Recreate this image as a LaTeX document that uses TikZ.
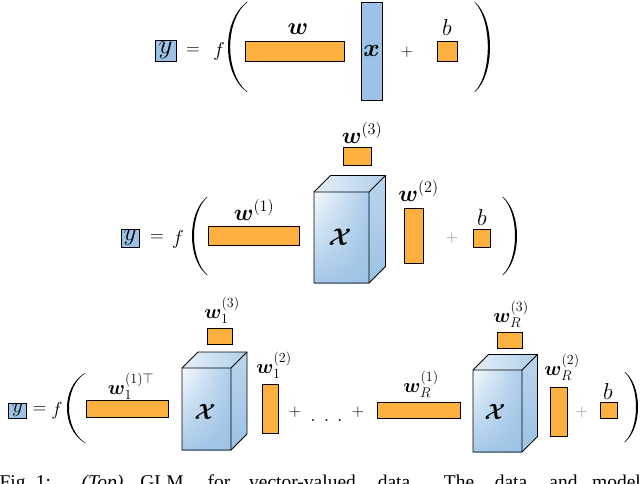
\documentclass[tikz,border=0pt]{standalone}
\usepackage{fix-cm}
\usepackage{amsmath,bm}
\usepackage{fontspec}
\newfontfamily\capfont{Liberation Serif}
\usetikzlibrary{shadings}
\definecolor{corange}{HTML}{FBB040}
\definecolor{cblue}{HTML}{9CC2E5}
\tikzset{
  obar/.style={fill=corange, draw=black, line width=0.8pt},
  bbar/.style={fill=cblue, draw=black, line width=0.8pt},
  ybox/.style={fill=cblue, draw=black, line width=0.8pt, inner sep=0pt},
  lbl/.style={inner sep=0pt},
  gplus/.style={text=black!45},
  edge/.style={draw=black, line width=0.8pt, line join=round},
  capw/.style={inner sep=0pt, anchor=base, font=\capfont\fontsize{19.5}{19.5}\selectfont},
}
\newcommand\fs[1]{\fontsize{#1}{#1}\selectfont}
% #1 end x, #2 extreme x, #3 top y, #4 bottom y, #5 mid thickness, #6 end thickness (signed)
\newcommand\myparen[6]{%
  \fill (#1,#3) .. controls ({#1+1.333*((#2)-(#1))},{#3+0.2*((#4)-(#3))}) and ({#1+1.333*((#2)-(#1))},{#4-0.2*((#4)-(#3))}) .. (#1,#4)
   -- ({#1+(#6)},#4) .. controls ({#1+(#6)+1.333*((#2)+(#5)-(#1)-(#6))},{#4-0.2*((#4)-(#3))}) and ({#1+(#6)+1.333*((#2)+(#5)-(#1)-(#6))},{#3+0.2*((#4)-(#3))}) .. ({#1+(#6)},#3) -- cycle;}
% cube: front x1 y1 x2 y2, depth d
\newcommand\mycube[5]{%
  \shade[left color=white!75!cblue, right color=cblue!80!white] (#1,#2) -- ({#1+#5},{#2-#5}) -- ({#3+#5},{#2-#5}) -- (#3,#2) -- cycle;
  \shade[top color=cblue!70!white, bottom color=cblue] (#3,#2) -- ({#3+#5},{#2-#5}) -- ({#3+#5},{#4-#5}) -- (#3,#4) -- cycle;
  \shade[upper left=white!90!cblue, upper right=cblue!85!white, lower left=cblue!90!white, lower right=cblue] (#1,#2) rectangle (#3,#4);
  \draw[edge] (#1,#2) -- ({#1+#5},{#2-#5}) -- ({#3+#5},{#2-#5}) -- ({#3+#5},{#4-#5}) -- (#3,#4) -- (#1,#4) -- cycle;
  \draw[edge] (#1,#2) -- (#3,#2) -- ({#3+#5},{#2-#5}) (#3,#2) -- (#3,#4);
}
\begin{document}
\begin{tikzpicture}[x=1pt,y=-1pt]
\clip (0,0) rectangle (640,484);
\fill[white] (0,0) rectangle (640,484);

% ---------- Row 1 ----------
\node[ybox, minimum width=21pt, minimum height=21pt, font=\fs{27}] (y1) at (165.5,50.5) {$y$};
\node[lbl, font=\fs{19}] (eq1) at (193,51) {$=$};
\node[lbl, font=\fs{20}] (f1) at (219,52) {$f$};
\myparen{247}{228}{2}{92}{2.2}{0.6}
\draw[obar] (245,41) rectangle (344,61);
\node[lbl, anchor=base, font=\fs{24}] (w1) at (298,35) {$\bm{w}$};
\draw[bbar] (361,2) rectangle (382,100);
\node[lbl, font=\fs{25}] (x1) at (371.5,51) {$\bm{x}$};
\node[lbl, font=\fs{17}] (p1) at (407,52) {$+$};
\draw[obar] (437,41) rectangle (457,61);
\node[lbl, anchor=base, font=\fs{23}] (b1) at (447,36) {$b$};
\myparen{475}{490}{2}{92}{-2.2}{-0.6}

% ---------- Row 2 ----------
\node[ybox, minimum width=18pt, minimum height=18pt, font=\fs{25}] (y2) at (130,238) {$y$};
\node[lbl, font=\fs{19}] (eq2) at (157,238) {$=$};
\node[lbl, font=\fs{20}] (f2) at (178,239) {$f$};
\myparen{207}{192}{197}{275}{2}{0.6}
\draw[obar] (208,226) rectangle (299,245);
\node[lbl, anchor=base, font=\fs{23}] (w21) at (254,220) {$\bm{w}^{(1)}$};
\mycube{314}{192}{369}{283}{16.5}
\node[lbl, font=\fs{24}] (X2) at (340,237.5) {$\bm{\mathcal{X}}$};
\draw[obar] (343,147) rectangle (371,165);
\node[lbl, anchor=base, font=\fs{23}] (w23) at (362,143) {$\bm{w}^{(3)}$};
\draw[obar] (404,208) rectangle (423,263);
\node[lbl, anchor=base, font=\fs{23}] (w22) at (418.5,201) {$\bm{w}^{(2)}$};
\node[lbl, gplus, font=\fs{17}] (p2) at (452,238) {$+$};
\draw[obar] (473,229) rectangle (490,247);
\node[lbl, anchor=base, font=\fs{23}] (b2) at (482,225) {$b$};
\myparen{503}{517}{197}{275}{-2}{-0.6}

% ---------- Row 3 ----------
\node[ybox, minimum width=18pt, minimum height=15pt, font=\fs{21}] (y3) at (17.5,410.5) {$y$};
\node[lbl, font=\fs{19}] (eq3) at (39.5,410) {$=$};
\node[lbl, font=\fs{19}] (f3) at (57,411) {$f$};
\myparen{85}{67}{373}{443}{2}{0.6}
\draw[obar] (86,400) rectangle (168,417);
\node[lbl, anchor=base, font=\fs{20}] (w31) at (131,394) {$\bm{w}_1^{(1)\top}$};
\mycube{182}{368}{231}{450}{16}
\node[lbl, font=\fs{22}] (X3a) at (205,412) {$\bm{\mathcal{X}}$};
\draw[obar] (207,328) rectangle (232,344);
\node[lbl, anchor=base, font=\fs{20}] (w33) at (222,318) {$\bm{w}_1^{(3)}$};
\draw[obar] (262,384) rectangle (278,433);
\node[lbl, anchor=base, font=\fs{20}] (w32) at (274,373) {$\bm{w}_1^{(2)}$};
\node[lbl, font=\fs{17}] (p3) at (295,412) {$+$};
\node[lbl, anchor=base, font=\fs{20}] (dots) at (326.5,421) {$.\kern8pt.\kern8pt.$};
\node[lbl, font=\fs{17}] (p4) at (358,412) {$+$};
\draw[obar] (377,402) rectangle (460,418);
\node[lbl, anchor=base, font=\fs{20}] (wR1) at (421,392) {$\bm{w}_R^{(1)}$};
\mycube{473}{370}{522}{452}{15.5}
\node[lbl, font=\fs{22}] (X3b) at (495,412) {$\bm{\mathcal{X}}$};
\draw[obar] (497,332) rectangle (522,348);
\node[lbl, anchor=base, font=\fs{20}] (wR3) at (511,322) {$\bm{w}_R^{(3)}$};
\draw[obar] (550,387) rectangle (567,436);
\node[lbl, anchor=base, font=\fs{20}] (wR2) at (562,375) {$\bm{w}_R^{(2)}$};
\node[lbl, gplus, font=\fs{17}] (p5) at (582,412) {$+$};
\draw[obar] (600,402) rectangle (617,418);
\node[lbl, anchor=base, font=\fs{23}] (b3) at (608,399) {$b$};
\myparen{625}{638}{372}{442}{-2}{-0.6}

% ---------- caption (cut off at the bottom edge) ----------
\node[capw] (c1) at (15,488) {Fig.};
\node[capw] (c2) at (43.5,488) {1:};
\node[capw] (c3) at (102.5,488) {\textit{(Top)}};
\node[capw] (c4) at (162,488) {GLM};
\node[capw] (c5) at (219,488) {for};
\node[capw] (c6) at (302.5,488) {vector-valued};
\node[capw] (c7) at (396.5,488) {data.};
\node[capw] (c8) at (459,488) {The};
\node[capw] (c9) at (511,488) {data};
\node[capw] (c10) at (563.5,488) {and};
\node[capw] (c11) at (616.5,488) {model};
\end{tikzpicture}
\end{document}
